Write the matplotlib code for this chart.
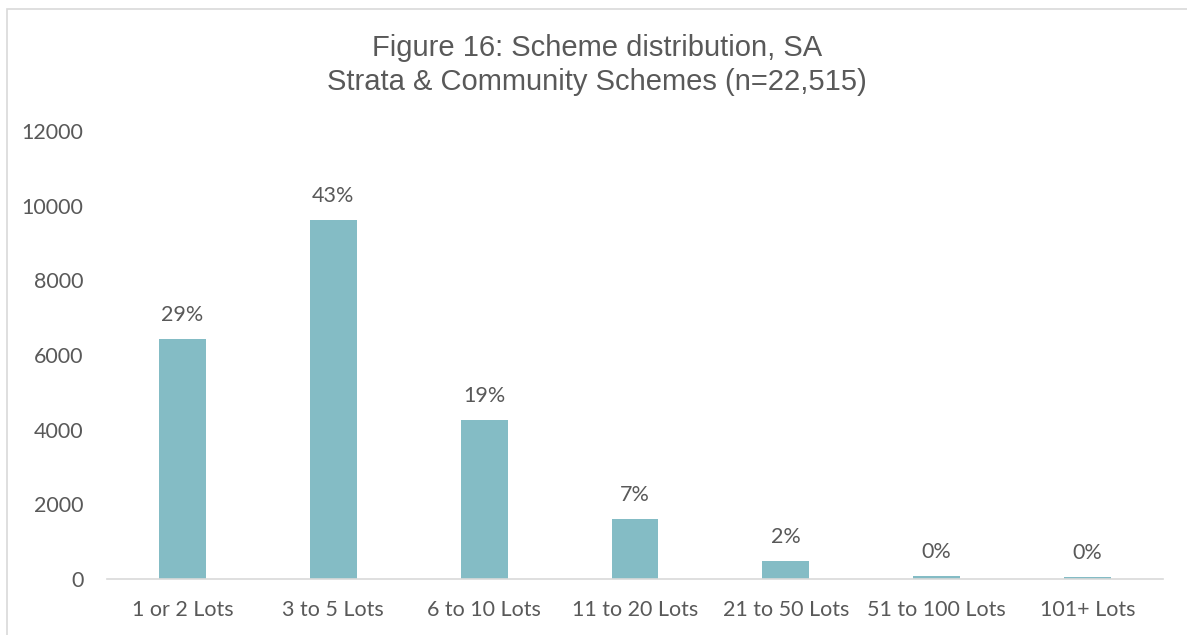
import matplotlib
matplotlib.use("Agg")
import matplotlib.pyplot as plt
from matplotlib.patches import Rectangle

# scheme counts by size band
categories = ["1 or 2 Lots", "3 to 5 Lots", "6 to 10 Lots", "11 to 20 Lots",
              "21 to 50 Lots", "51 to 100 Lots", "101+ Lots"]
schemes = [6430, 9620, 4260, 1610, 480, 75, 45]
n_total = 22515
y_ticks = [0, 2000, 4000, 6000, 8000, 10000, 12000]

bar_col = "#84BCC5"
txt_col = "#595959"

fig = plt.figure(figsize=(11.87, 6.35), dpi=100)
ax = fig.add_axes([0.0901, 0.0882, 0.8897, 0.7055])

x = range(len(categories))
bars = ax.bar(x, schemes, width=0.31, color=bar_col, zorder=2)

# percentage share above each bar
for b, v in zip(bars, schemes):
    pct = round(100 * v / n_total)
    ax.annotate(f"{pct}%", (b.get_x() + b.get_width() / 2, v),
                xytext=(0, 10), textcoords="offset points",
                ha="center", va="bottom", fontsize=15.5,
                family="Lato", color=txt_col)

ax.set_xlim(-0.5, len(categories) - 0.5)
ax.set_ylim(0, 12000)
ax.set_yticks(y_ticks)
ax.set_yticklabels([str(t) for t in y_ticks])
ax.set_xticks(list(x))
ax.set_xticklabels(categories)

for lab in ax.get_xticklabels() + ax.get_yticklabels():
    lab.set_family("Lato")
    lab.set_fontsize(15.5)
    lab.set_color(txt_col)

ax.tick_params(axis="y", length=0, pad=17)
ax.tick_params(axis="x", length=0, pad=15)

for s in ["top", "right", "left"]:
    ax.spines[s].set_visible(False)
ax.spines["bottom"].set_color("#D9D9D9")
ax.spines["bottom"].set_linewidth(1.2)

fig.text(0.503, 0.947, "Figure 16: Scheme distribution, SA\nStrata & Community Schemes (n=22,515)",
         ha="center", va="top", fontsize=21, family="Liberation Sans",
         color=txt_col, linespacing=1.3)

# light frame around the chart area
fig.patches.append(Rectangle((7 / 1187, -0.05), 1.2, 1 - 9 / 635 + 0.05,
                             transform=fig.transFigure, fill=False,
                             edgecolor="#D9D9D9", linewidth=1.2))

fig.savefig("out.png", dpi=100)
